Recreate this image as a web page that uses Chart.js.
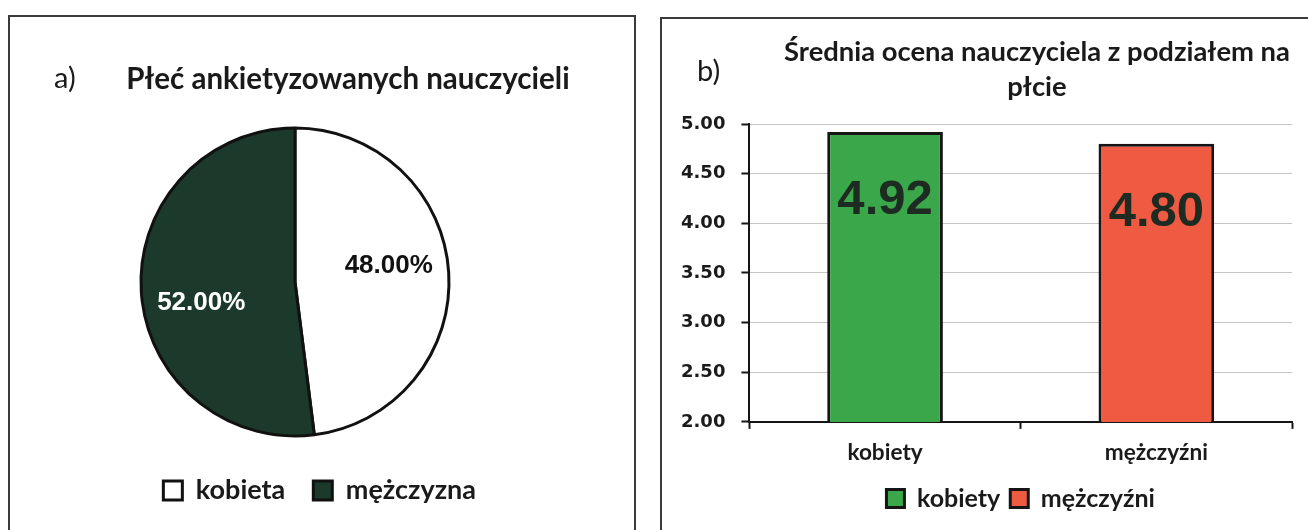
<!DOCTYPE html>
<html>
<head>
<meta charset="utf-8">
<script src="https://cdn.jsdelivr.net/npm/chart.js@4.4.0/dist/chart.umd.min.js"></script>
<style>
  body { margin: 0; width: 1308px; height: 530px; overflow: hidden; background: #fff; position: relative; }
  .panel { position: absolute; border: 2px solid #3a3a3a; overflow: hidden; background: #fff; }
  #panelA { left: 8px; top: 15px; width: 624px; height: 530px; }
  #panelB { left: 660px; top: 17px; width: 700px; height: 530px; }
  .tag { position: absolute; font-family: "Lato", "Open Sans", sans-serif; font-size: 29px; color: #1a1a1a; line-height: 1; }
  .ttl { position: absolute; font-family: "Lato", "Open Sans", sans-serif; font-weight: bold; color: #1a1a1a; text-align: center; white-space: nowrap; }
  .box { position: absolute; left: 0; top: 0; }
</style>
</head>
<body>
<div class="panel" id="panelA">
  <div class="box" style="width:624px;height:515px;"><canvas id="pie_Chart"></canvas></div>
  <div class="tag" style="left:44px;top:45px;">a)</div>
  <div class="ttl" id="titleA" style="left:0;width:676px;top:43px;font-size:29.5px;line-height:36px;"></div>
</div>
<div class="panel" id="panelB">
  <div class="box" style="width:700px;height:511px;"><canvas id="bar_Chart"></canvas></div>
  <div class="tag" style="left:35px;top:36px;">b)</div>
  <div class="ttl" id="titleB" style="left:0;width:750px;top:14px;font-size:27.4px;line-height:35px;"></div>
</div>
<script>
// dane - wykres a)
var pieTitle = "Płeć ankietyzowanych nauczycieli";
var pieLabels = ["kobieta", "mężczyzna"];
var pieValues = [48.0, 52.0];
var pieColors = ["#ffffff", "#1c3a2b"];

// dane - wykres b)
var barTitle = ["Średnia ocena nauczyciela z podziałem na", "płcie"];
var barLabels = ["kobiety", "mężczyźni"];
var barValues = [4.92, 4.80];
var barColors = ["#3aa84a", "#ef5a42"];
var yTicks = [2.0, 2.5, 3.0, 3.5, 4.0, 4.5, 5.0];

var fontCal = "Lato, 'Open Sans', sans-serif";

document.getElementById("titleA").textContent = pieTitle;
document.getElementById("titleB").innerHTML = barTitle.join("<br>");

// etykiety procentowe na wycinkach
var pieLabelPlugin = {
    id: "pieLabel",
    afterDatasetsDraw: function (chart) {
        var ctx = chart.ctx;
        var meta = chart.getDatasetMeta(0);
        meta.data.forEach(function (arc, i) {
            var p = arc.getProps(["x", "y", "startAngle", "endAngle", "outerRadius"]);
            var mid = (p.startAngle + p.endAngle) / 2;
            var r = p.outerRadius * 0.61;
            ctx.save();
            ctx.font = "bold 26px 'Liberation Sans', Arial, sans-serif";
            ctx.fillStyle = i == 0 ? "#111111" : "#ffffff";
            ctx.textAlign = "center";
            ctx.textBaseline = "middle";
            ctx.fillText(pieValues[i].toFixed(2) + "%", p.x + Math.cos(mid) * r, p.y + Math.sin(mid) * r + (i == 1 ? 15 : -10));
            ctx.restore();
        });
    },
};

// wartosci na slupkach
var barLabelPlugin = {
    id: "barLabel",
    afterDatasetsDraw: function (chart) {
        var ctx = chart.ctx;
        chart.data.datasets.forEach(function (ds, d) {
            var meta = chart.getDatasetMeta(d);
            meta.data.forEach(function (bar, i) {
                if (ds.data[i] == null) return;
                ctx.save();
                ctx.font = "bold 49px 'Liberation Sans', Arial, sans-serif";
                ctx.fillStyle = "#1d2b22";
                ctx.textAlign = "center";
                ctx.textBaseline = "middle";
                ctx.fillText(ds.data[i].toFixed(2), bar.x, bar.y + 69);
                ctx.restore();
            });
        });
    },
};

var pieChart = new Chart(document.getElementById("pie_Chart").getContext("2d"), {
    type: "pie",
    data: {
        labels: pieLabels,
        datasets: [{
            data: pieValues,
            backgroundColor: pieColors,
            borderColor: "#111111",
            borderWidth: 3,
            radius: 154,
        }],
    },
    options: {
        responsive: true,
        maintainAspectRatio: false,
        animation: false,
        layout: { padding: { left: 76, right: 130, top: 98, bottom: 18 } },
        plugins: {
            title: { display: false },
            legend: {
                position: "bottom",
                align: "end",
                fullSize: false,
                labels: {
                    color: "#1a1a1a",
                    boxWidth: 19,
                    boxHeight: 19,
                    padding: 28,
                    font: { family: fontCal, size: 27, weight: "bold" },
                },
            },
            tooltip: { enabled: false },
        },
    },
    plugins: [pieLabelPlugin],
});

var barChart = new Chart(document.getElementById("bar_Chart").getContext("2d"), {
    type: "bar",
    data: {
        labels: barLabels,
        datasets: [
            { label: barLabels[0], data: [barValues[0], null], backgroundColor: barColors[0], borderColor: "#151515", borderWidth: 3, borderSkipped: false },
            { label: barLabels[1], data: [null, barValues[1]], backgroundColor: barColors[1], borderColor: "#151515", borderWidth: 3, borderSkipped: false },
        ],
    },
    options: {
        responsive: true,
        maintainAspectRatio: false,
        animation: false,
        skipNull: true,
        categoryPercentage: 0.82,
        barPercentage: 0.52,
        layout: { padding: { left: 3, right: 70, top: 105, bottom: 9 } },
        scales: {
            x: {
                grid: { display: true, drawOnChartArea: false, offset: true, tickLength: 7, tickColor: "#151515", tickWidth: 2 },
                border: { color: "#151515", width: 2 },
                ticks: { color: "#1a1a1a", padding: 10, font: { family: fontCal, size: 22.6, weight: "bold" } },
            },
            y: {
                min: yTicks[0],
                max: yTicks[yTicks.length - 1],
                afterBuildTicks: function (axis) {
                    axis.ticks = yTicks.map(function (v) { return { value: v }; });
                },
                grid: { color: "#c4c4c4", lineWidth: 1, tickLength: 8, tickColor: "#151515", tickWidth: 2 },
                border: { color: "#151515", width: 2 },
                ticks: {
                    color: "#1a1a1a",
                    padding: 16,
                    font: { family: "'DejaVu Sans', Verdana, sans-serif", size: 18, weight: "bold" },
                    callback: function (v) { return Number(v).toFixed(2); },
                },
            },
        },
        plugins: {
            title: { display: false },
            legend: {
                position: "bottom",
                fullSize: false,
                labels: {
                    color: "#1a1a1a",
                    boxWidth: 18,
                    boxHeight: 18,
                    padding: 10,
                    font: { family: fontCal, size: 25, weight: "bold" },
                },
            },
            tooltip: { enabled: false },
        },
    },
    plugins: [barLabelPlugin],
});
</script>
</body>
</html>
